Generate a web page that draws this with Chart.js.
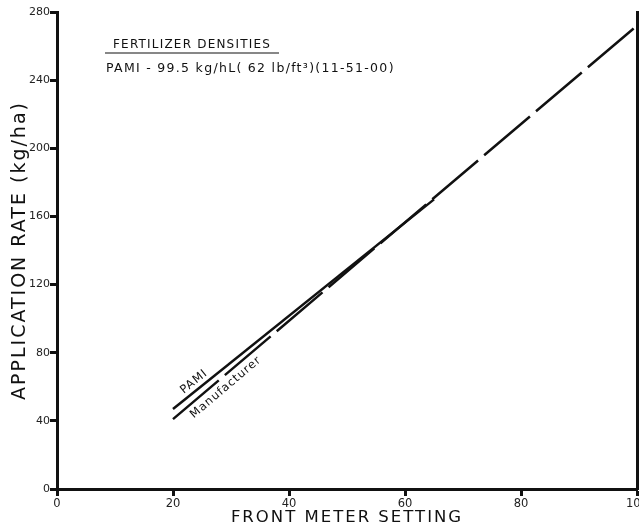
<!DOCTYPE html>
<html>
<head>
<meta charset="utf-8">
<script src="https://cdn.jsdelivr.net/npm/chart.js@4.4.1/dist/chart.umd.min.js"></script>
<style>
  html, body { margin: 0; padding: 0; background: #fff; }
  #wrap { width: 639px; height: 529px; }
</style>
</head>
<body>
<div id="wrap"><canvas id="rateChart" width="639" height="529"></canvas></div>
<script>
// application rate vs front meter setting
const pamiSettings = [20, 65];
const pamiRates = [47, 170];
const mfrSettings = [20, 100];
const mfrRates = [41, 272];
const xTicks = [0, 20, 40, 60, 80, 100];
const yTicks = [0, 40, 80, 120, 160, 200, 240, 280];
const densityTitle = 'FERTILIZER DENSITIES';
const densityNote = 'PAMI - 99.5 kg/hL( 62 lb/ft³)(11-51-00)';

const INK = '#111';
const FONT = "'DejaVu Sans', sans-serif";

function toPoints(xs, ys) {
    return xs.map((x, i) => ({ x: x, y: ys[i] }));
}

// titles get wide spacing, tick labels (drawn later at z=1) get none
const spacingPlugin = {
    id: 'spacing',
    beforeDraw(chart) { chart.ctx.letterSpacing = '2px'; },
    beforeDatasetsDraw(chart) { chart.ctx.letterSpacing = '0px'; },
    afterDraw(chart) { chart.ctx.letterSpacing = '0px'; }
};

// little label along a line, placed through the scales
function lineLabel(chart, xs, ys, atX, text, offset) {
    const sx = chart.scales.x, sy = chart.scales.y;
    const x0 = sx.getPixelForValue(xs[0]), y0 = sy.getPixelForValue(ys[0]);
    const x1 = sx.getPixelForValue(xs[xs.length - 1]), y1 = sy.getPixelForValue(ys[ys.length - 1]);
    const t = (atX - xs[0]) / (xs[xs.length - 1] - xs[0]);
    const px = x0 + (x1 - x0) * t, py = y0 + (y1 - y0) * t;
    const ctx = chart.ctx;
    ctx.save();
    ctx.translate(px, py);
    ctx.rotate(Math.atan2(y1 - y0, x1 - x0));
    ctx.font = '11.5px ' + FONT;
    ctx.letterSpacing = '1px';
    ctx.fillStyle = INK;
    ctx.textAlign = 'center';
    ctx.textBaseline = 'middle';
    ctx.fillText(text, 0, offset);
    ctx.restore();
}

const notesPlugin = {
    id: 'notes',
    afterDraw(chart) {
        const ctx = chart.ctx;
        const a = chart.chartArea;
        ctx.save();
        ctx.fillStyle = INK;
        ctx.strokeStyle = INK;
        ctx.textBaseline = 'alphabetic';
        ctx.textAlign = 'left';
        ctx.font = '12px ' + FONT;
        ctx.letterSpacing = '1.2px';
        ctx.fillText(densityTitle, a.left + 56, 48);
        ctx.lineWidth = 1.2;
        ctx.beginPath();
        ctx.moveTo(a.left + 48, 53);
        ctx.lineTo(a.left + 222, 53);
        ctx.stroke();
        ctx.font = '12.5px ' + FONT;
        ctx.letterSpacing = '1.3px';
        ctx.fillText(densityNote, a.left + 49, 72);
        ctx.restore();

        lineLabel(chart, pamiSettings, pamiRates, 24.5, 'PAMI', -8);
        lineLabel(chart, mfrSettings, mfrRates, 28, 'Manufacturer', 10);
    }
};

new Chart(document.getElementById('rateChart'), {
    type: 'line',
    data: {
        datasets: [
            {
                label: 'PAMI',
                data: toPoints(pamiSettings, pamiRates),
                borderColor: INK,
                borderWidth: 2.5,
                pointRadius: 0,
                fill: false
            },
            {
                label: 'Manufacturer',
                data: toPoints(mfrSettings, mfrRates),
                borderColor: INK,
                borderWidth: 2.5,
                borderDash: [60, 8],
                pointRadius: 0,
                fill: false
            }
        ]
    },
    options: {
        responsive: false,
        animation: false,
        layout: { padding: { top: 12, right: 2, bottom: 0, left: 0 } },
        plugins: {
            legend: { display: false },
            tooltip: { enabled: false }
        },
        scales: {
            x: {
                type: 'linear',
                min: 0,
                max: 100,
                afterBuildTicks: s => { s.ticks = xTicks.map(v => ({ value: v })); },
                afterFit: s => { s.height = 40; s.paddingLeft = 0; s.paddingRight = 0; },
                ticks: { color: '#222', font: { family: FONT, size: 11.5 }, padding: 1, z: 1, maxRotation: 0 },
                grid: { drawOnChartArea: false, drawTicks: true, tickLength: 7, tickWidth: 3, tickColor: INK, color: INK },
                border: { display: true, color: INK, width: 3 },
                title: { display: true, text: 'FRONT METER SETTING', color: INK, font: { family: FONT, size: 16.5 }, padding: { top: 0, bottom: 1 } }
            },
            y: {
                min: 0,
                max: 280,
                afterBuildTicks: s => { s.ticks = yTicks.map(v => ({ value: v })); },
                afterFit: s => { s.width = 57; s.paddingTop = 0; s.paddingBottom = 0; },
                ticks: { color: '#222', font: { family: FONT, size: 11 }, padding: 0, z: 1 },
                grid: { drawOnChartArea: false, drawTicks: true, tickLength: 7, tickWidth: 3, tickColor: INK, color: INK },
                border: { display: true, color: INK, width: 3 },
                title: { display: true, text: 'APPLICATION RATE (kg/ha)', color: INK, font: { family: FONT, size: 19 }, padding: { top: 9, bottom: 0 } }
            },
            y2: {
                position: 'right',
                min: 0,
                max: 280,
                afterFit: s => { s.width = 0; s.paddingTop = 0; s.paddingBottom = 0; },
                ticks: { display: false },
                grid: { display: false },
                border: { display: true, color: INK, width: 3 }
            }
        }
    },
    plugins: [spacingPlugin, notesPlugin]
});
</script>
</body>
</html>
